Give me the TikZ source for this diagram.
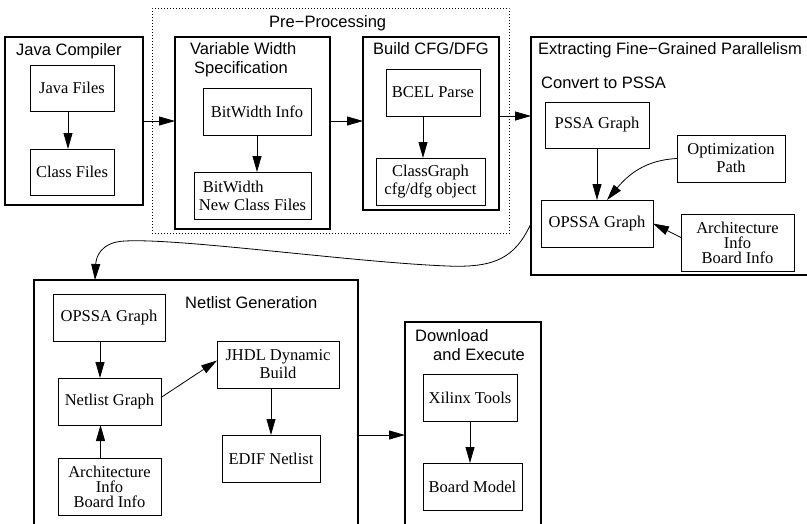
\documentclass[tikz,border=0pt]{standalone}
\usepackage{fontspec}
\setmainfont{Liberation Serif}
\newfontfamily\lsans{Liberation Sans}
\usetikzlibrary{arrows.meta,calc}
\begin{document}
\begin{tikzpicture}[x=1pt,y=-1pt,
  bigbox/.style={draw,line width=1.8pt,inner sep=0pt,outer sep=0pt,anchor=north west},
  inbox/.style={draw,line width=0.8pt,inner sep=0pt,outer sep=0pt,anchor=north west,align=center,font=\fontsize{16.5}{18}\selectfont},
  lbl/.style={inner sep=0pt,anchor=base west,font=\lsans\fontsize{16.5}{19}\selectfont},
  arr/.style={line width=0.8pt,-{Triangle[length=16pt,width=9pt]}},
  lnk/.style={line width=0.8pt}]
\useasboundingbox (0,0) rectangle (807,523);
\clip (0,0) rectangle (807,523);
% outer boxes
\node[bigbox,minimum width=138,minimum height=168] (jc) at (5,37) {};
\node[draw,line width=0.6pt,dash pattern=on 0.8pt off 2.2pt,inner sep=0pt,anchor=north west,minimum width=357,minimum height=225] (pre) at (152,8) {};
\node[bigbox,minimum width=155,minimum height=192] (vw) at (175,37) {};
\node[bigbox,minimum width=136,minimum height=173] (cfg) at (363,37) {};
\node[bigbox,minimum width=300,minimum height=238] (ex) at (531,37) {};
\node[bigbox,minimum width=324,minimum height=260] (ng) at (34,280) {};
\node[bigbox,minimum width=136,minimum height=220] (dl) at (405,322) {};
% labels
\node[lbl] (ljc) at (16,55) {Java Compiler};
\node[lbl] (lpre) at (269,27) {Pre−Processing};
\node[lbl] (lvw1) at (190,54) {Variable Width};
\node[lbl] (lvw2) at (194,73) {Specification};
\node[lbl] (lcfg) at (373,54) {Build CFG/DFG};
\node[lbl] (lex) at (538,54) {Extracting Fine−Grained Parallelism};
\node[lbl] (lcp) at (541,88) {Convert to PSSA};
\node[lbl] (lng) at (185,308) {Netlist Generation};
\node[lbl] (ldl1) at (415,341) {Download};
\node[lbl] (ldl2) at (433,360) {and Execute};
% inner boxes
\node[inbox,minimum width=84,minimum height=46] (jf) at (30,65) {Java Files};
\node[inbox,minimum width=84,minimum height=46] (cf) at (30,149) {Class Files};
\node[inbox,minimum width=108,minimum height=47] (bwi) at (203,88) {BitWidth Info};
\node[inbox,minimum width=117,minimum height=47,align=left] (bwn) at (194,172) {\hspace{4pt}BitWidth\\New Class Files};
\node[inbox,minimum width=94,minimum height=47] (bcel) at (386,69) {BCEL Parse};
\node[inbox,minimum width=109,minimum height=47] (cg) at (376,158) {ClassGraph\\cfg/dfg object};
\node[inbox,minimum width=104,minimum height=46] (pssa) at (545,102) {PSSA Graph};
\node[inbox,minimum width=108,minimum height=47] (opt) at (677,135) {Optimization\\Path};
\node[inbox,minimum width=112,minimum height=47] (opssa) at (541,200) {OPSSA Graph};
\node[inbox,minimum width=113,minimum height=57,font=\fontsize{16.5}{15}\selectfont] (arch) at (681,214) {Architecture\\Info\\Board Info};
\node[inbox,minimum width=112,minimum height=47] (nop) at (53,294) {OPSSA Graph};
\node[inbox,minimum width=103,minimum height=47] (nlg) at (58,378) {Netlist Graph};
\node[inbox,minimum width=103,minimum height=57,font=\fontsize{16.5}{15}\selectfont] (narch) at (58,458) {Architecture\\Info\\Board Info};
\node[inbox,minimum width=122,minimum height=47] (jhdl) at (217,341) {JHDL Dynamic\\Build};
\node[inbox,minimum width=98,minimum height=47] (edif) at (222,435) {EDIF Netlist};
\node[inbox,minimum width=94,minimum height=47] (xil) at (423,374) {Xilinx Tools};
\node[inbox,minimum width=99,minimum height=47] (bm) at (423,463) {Board Model};
% connectors between stages
\draw[arr] (jc.east) -- (jc.east -| vw.west);
\draw[arr] (jc.east -| vw.east) -- (jc.east -| cfg.west);
\draw[arr] (cfg.east |- bcel.south) -- (ex.west |- bcel.south);
\draw[arr] (ng.east |- edif.north) -- (dl.west |- edif.north);
\coordinate (cs) at (ex.west |- opssa.center);
\coordinate (ce) at ([xshift=61pt]ng.north west);
\draw[arr] (cs) .. controls (515,258) and (495,268) .. (447,266)
  .. controls (350,262) and (180,238) .. (125,241)
  .. controls (100,242) and (96,258) .. (ce);
% inner connectors
\draw[arr] ([xshift=-4pt]jf.south) -- ([xshift=-4pt]jf.south |- cf.north);
\draw[arr] (bwi.south) -- (bwi.south |- bwn.north);
\draw[arr] ([xshift=-10pt]bcel.south) -- ([xshift=-10pt]bcel.south |- cg.north);
\draw[arr] (pssa.south) -- (pssa.south |- opssa.north);
\draw[arr] (opt.west) .. controls (645,160) and (628,175) .. ([xshift=10pt]opssa.north);
\draw[arr] ([yshift=5pt]arch.west) -- (opssa.east);
\draw[arr] ([xshift=-9pt]nop.south) -- ([xshift=-9pt]nop.south |- nlg.north);
\draw[arr] ([xshift=-9pt]narch.north) -- ([xshift=-9pt]narch.north |- nlg.south);
\draw[arr] ([yshift=4pt]nlg.east) -- ([yshift=4pt]jhdl.west);
\draw[arr] (edif.north |- jhdl.south) -- (edif.north);
\draw[arr] (xil.south) -- (xil.south |- bm.north);
\end{tikzpicture}
\end{document}
